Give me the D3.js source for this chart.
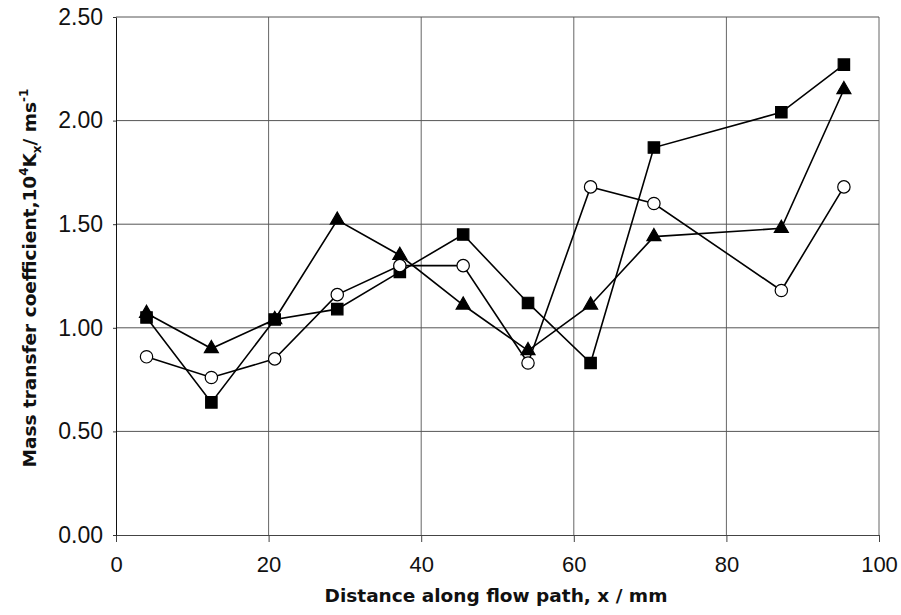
<!DOCTYPE html>
<html>
<head>
<meta charset="utf-8">
<script src="https://cdn.jsdelivr.net/npm/d3@7/dist/d3.min.js"></script>
<style>
  html, body { margin: 0; padding: 0; background: #fff; }
  svg text { fill: #111; }
</style>
</head>
<body>
<svg id="chart" width="901" height="615"></svg>
<script>
// Distance along the flow path (mm)
const distance = [4, 12.5, 20.8, 29, 37.2, 45.5, 54, 62.2, 70.5, 87.2, 95.4];
// Mass transfer coefficient, 10^4 Kx / m s^-1
const squareSeries   = [1.05, 0.64, 1.04, 1.09, 1.27, 1.45, 1.12, 0.83, 1.87, 2.04, 2.27];
const triangleSeries = [1.07, 0.90, 1.04, 1.52, 1.35, 1.11, 0.89, 1.11, 1.44, 1.48, 2.15];
const circleSeries   = [0.86, 0.76, 0.85, 1.16, 1.30, 1.30, 0.83, 1.68, 1.60, 1.18, 1.68];
const xTicks = [0, 20, 40, 60, 80, 100];
const yTicks = [0, 0.5, 1.0, 1.5, 2.0, 2.5];

const svg = d3.select("#chart");
const margin = { left: 116, right: 22, top: 17, bottom: 80 };
const W = 901, H = 615;
const tickFont = "Liberation Sans, Arial, sans-serif";
const titleFont = "DejaVu Sans, sans-serif";

const x = d3.scaleLinear().domain([0, 100]).range([margin.left, W - margin.right]);
const y = d3.scaleLinear().domain([0, 2.5]).range([H - margin.bottom, margin.top]);

// grid lines
svg.append("g").selectAll("line").data(xTicks.slice(1)).join("line")
  .attr("x1", d => x(d)).attr("x2", d => x(d))
  .attr("y1", y(0)).attr("y2", y(2.5))
  .attr("stroke", "#666").attr("stroke-width", 1);
svg.append("g").selectAll("line").data(yTicks.slice(1)).join("line")
  .attr("x1", x(0)).attr("x2", x(100))
  .attr("y1", d => y(d)).attr("y2", d => y(d))
  .attr("stroke", "#555").attr("stroke-width", 1);

// axes
const xAxis = d3.axisBottom(x).tickValues(xTicks).tickFormat(d3.format("d"))
  .tickSizeInner(7).tickSizeOuter(0).tickPadding(14);
const gx = svg.append("g").attr("transform", `translate(0,${y(0)})`).call(xAxis);
gx.select(".domain").attr("stroke", "#444");
gx.selectAll(".tick line").attr("stroke", "#444");
gx.selectAll("text").attr("font-size", 22).attr("fill", "#111")
  .attr("font-family", tickFont);

const yAxis = d3.axisLeft(y).tickValues(yTicks).tickFormat(d3.format(".2f"))
  .tickSizeInner(3).tickSizeOuter(0).tickPadding(10);
const gy = svg.append("g").attr("transform", `translate(${x(0)},0)`).call(yAxis);
gy.select(".domain").attr("stroke", "#111");
gy.selectAll(".tick line").attr("stroke", "#333");
gy.selectAll("text").attr("font-size", 23).attr("fill", "#111")
  .attr("font-family", tickFont);

// axis titles
svg.append("text")
  .attr("x", 496).attr("y", 602)
  .attr("text-anchor", "middle").attr("font-size", 18.5).attr("font-weight", "bold")
  .attr("font-family", titleFont)
  .text("Distance along flow path, x / mm");

const yt = svg.append("text")
  .attr("transform", `translate(36,278) rotate(-90)`)
  .attr("text-anchor", "middle").attr("font-size", 18.5).attr("font-weight", "bold")
  .attr("font-family", titleFont);
yt.append("tspan").text("Mass transfer coefficient,10");
yt.append("tspan").attr("font-size", 12).attr("dy", -8).text("4");
yt.append("tspan").attr("dy", 8).text("K");
yt.append("tspan").attr("font-size", 12).attr("dy", 5).text("x");
yt.append("tspan").attr("dy", -5).text("/ ms");
yt.append("tspan").attr("font-size", 12).attr("dy", -8).text("-1");

// series
const line = d3.line().x(d => x(d[0])).y(d => y(d[1]));
const series = [
  { vals: squareSeries,   sym: d3.symbolSquare,   size: 130, fill: "#000" },
  { vals: circleSeries,   sym: d3.symbolCircle,   size: 120, fill: "#fff" },
  { vals: triangleSeries, sym: d3.symbolTriangle, size: 85,  fill: "#000" }
];
series.forEach(s => {
  const pts = distance.map((d, i) => [d, s.vals[i]]);
  svg.append("path").datum(pts).attr("d", line)
    .attr("fill", "none").attr("stroke", "#000").attr("stroke-width", 1.6);
});
series.forEach(s => {
  const pts = distance.map((d, i) => [d, s.vals[i]]);
  svg.append("g").selectAll("path").data(pts).join("path")
    .attr("d", d3.symbol().type(s.sym).size(s.size))
    .attr("transform", d => `translate(${x(d[0])},${y(d[1])})`)
    .attr("fill", s.fill).attr("stroke", "#000").attr("stroke-width", 1.2);
});
</script>
</body>
</html>
